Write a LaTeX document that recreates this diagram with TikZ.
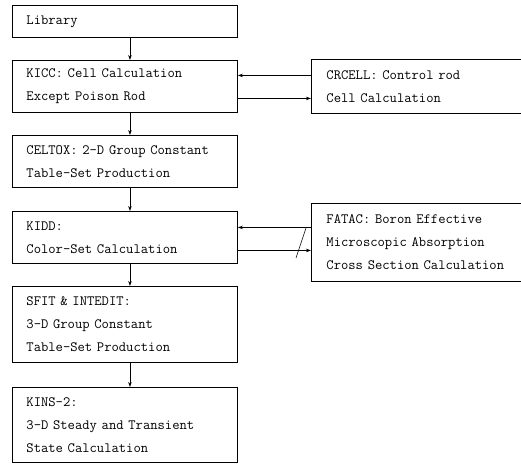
\documentclass[tikz,border=0pt]{standalone}
\usepackage{fontspec}
\usetikzlibrary{arrows.meta,calc}
\tikzset{
  box/.style={draw, line width=0.9pt, rectangle, anchor=north west, inner ysep=0pt,
    inner xsep=14pt, text width=197pt, minimum width=225pt, align=left,
    font=\ttfamily\fontsize{14.2}{23}\selectfont},
  sidebox/.style={box, inner xsep=15pt, text width=200pt, minimum width=230pt},
  conn/.style={line width=0.7pt, -{Stealth[length=5pt,width=3.5pt]}},
  plain/.style={line width=0.7pt},
}
\begin{document}
\begin{tikzpicture}[x=1pt,y=-1pt]
\useasboundingbox (0,0) rectangle (521,466);
\clip (0,0) rectangle (521,466);
\node[box, minimum height=32pt] (lib) at (12,5) {Library};
\node[box, minimum height=52pt] (kicc) at (12,60) {KICC: Cell Calculation\\Except Poison Rod};
\node[box, minimum height=52pt] (celtox) at (12,135) {CELTOX: 2-D Group Constant\\Table-Set Production};
\node[box, minimum height=52pt] (kidd) at (12,211) {KIDD:\\Color-Set Calculation};
\node[box, minimum height=76pt] (sfit) at (12,286) {SFIT \& INTEDIT:\\3-D Group Constant\\Table-Set Production};
\node[box, minimum height=75pt] (kins) at (12,387) {KINS-2:\\3-D Steady and Transient\\State Calculation};
\node[sidebox, minimum height=54pt] (crcell) at (311,59) {CRCELL: Control rod\\Cell Calculation};
\node[sidebox, minimum height=78pt] (fatac) at (311,203) {FATAC: Boron Effective\\Microscopic Absorption\\Cross Section Calculation};

\draw[conn] ([xshift=5pt]lib.south) -- ([xshift=5pt]kicc.north);
\draw[conn] ([xshift=5pt]kicc.south) -- ([xshift=5pt]celtox.north);
\draw[conn] ([xshift=5pt]celtox.south) -- ([xshift=5pt]kidd.north);
\draw[conn] ([xshift=5pt]kidd.south) -- ([xshift=5pt]sfit.north);
\draw[conn] ([xshift=5pt]sfit.south) -- ([xshift=5pt]kins.north);

\coordinate (k1) at ([yshift=11pt]kicc.east);
\coordinate (k2) at ([yshift=-12pt]kicc.east);
\draw[conn] (crcell.west |- k1) -- (k1);
\draw[conn] (k2) -- (crcell.west |- k2);

\coordinate (d1) at ($(kidd.east)+(0,-10)$);
\coordinate (d2) at ($(kidd.east)+(0,13)$);
\draw[conn] (fatac.west |- d1) -- (d1);
\draw[conn] (d2) -- (fatac.west |- d2);
\coordinate (s1) at (306,228);
\coordinate (s2) at (296,258);
\draw[plain, line width=0.5pt] (s1) -- (s2);
\end{tikzpicture}
\end{document}
